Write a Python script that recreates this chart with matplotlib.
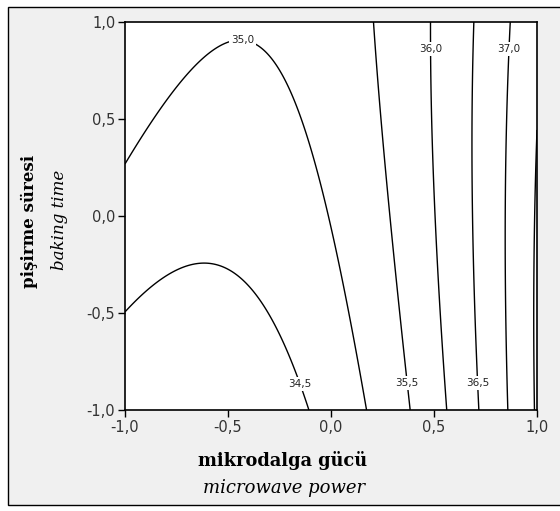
import numpy as np
import matplotlib
matplotlib.use("Agg")
import matplotlib.pyplot as plt
from matplotlib.patches import Rectangle

# quadratic response-surface model:
# z = b0 + b1*x + b2*y + b11*x^2 + b22*y^2 + b12*x*y
coef_names = ["b0", "b1", "b2", "b11", "b22", "b12"]
coef_vals = [35.017, 1.355, 0.287, 1.17, -0.06, -0.355]

levels = [34.5, 35.0, 35.5, 36.0, 36.5, 37.0, 37.5]
label_levels = [34.5, 35.0, 35.5, 36.0, 36.5, 37.0]
# rough label spots (snapped onto the contour below)
label_guess = [(-0.12, -0.86), (-0.43, 0.90), (0.38, -0.86),
               (0.48, 0.86), (0.70, -0.86), (0.84, 0.86)]

ticks = [-1.0, -0.5, 0.0, 0.5, 1.0]
tick_labels = ["-1,0", "-0,5", "0,0", "0,5", "1,0"]

c = dict(zip(coef_names, coef_vals))
gx, gy = np.meshgrid(np.linspace(-1, 1, 301), np.linspace(-1, 1, 301))
Z = (c["b0"] + c["b1"] * gx + c["b2"] * gy + c["b11"] * gx ** 2
     + c["b22"] * gy ** 2 + c["b12"] * gx * gy)

fig = plt.figure(figsize=(5.6, 5.11), dpi=100, facecolor="white")
# grey panel with border (left / top / bottom edges)
fig.patches.append(Rectangle((8 / 560, 1 - 505 / 511), 1.0, (505 - 7) / 511,
                             transform=fig.transFigure, facecolor="#f0f0f0",
                             edgecolor="black", lw=1.0, zorder=-10))

ax = fig.add_axes([125 / 560, 1 - 410 / 511, 412 / 560, 388 / 511])
ax.set_facecolor("white")
cs = ax.contour(gx, gy, Z, levels=levels, colors="black", linewidths=1.0)

# horizontal labels sitting on the lines, white box makes the gap
paths = cs.get_paths()
for lev, (px, py) in zip(label_levels, label_guess):
    v = paths[levels.index(lev)].vertices
    i = np.argmin((v[:, 0] - px) ** 2 + (v[:, 1] - py) ** 2)
    ax.text(v[i, 0], v[i, 1], f"{lev:.1f}".replace(".", ","), fontsize=7.5,
            ha="center", va="center", color="#222222",
            bbox=dict(facecolor="white", edgecolor="none", pad=1.5), zorder=4)

ax.set_xlim(-1, 1)
ax.set_ylim(-1, 1)
ax.set_xticks(ticks)
ax.set_xticklabels(tick_labels)
ax.set_yticks(ticks)
ax.set_yticklabels(tick_labels)
ax.tick_params(direction="out", length=5, width=1.0, labelsize=10.5,
               labelcolor="#333333", pad=2)
for sp in ax.spines.values():
    sp.set_linewidth(1.2)
    sp.set_color("black")

fig.text(0.505, 1 - 460 / 511, "mikrodalga gücü", family="DejaVu Serif",
         weight="bold", fontsize=12.8, ha="center", va="center")
fig.text(0.508, 1 - 488 / 511, "microwave power", family="DejaVu Serif",
         style="italic", fontsize=13, ha="center", va="center")
fig.text(29 / 560, 1 - 221 / 511, "pişirme süresi", family="DejaVu Serif",
         weight="bold", fontsize=12, ha="center", va="center", rotation=90)
fig.text(60 / 560, 1 - 220 / 511, "baking time", family="DejaVu Serif",
         style="italic", fontsize=12, ha="center", va="center", rotation=90)

fig.savefig("out.png", dpi=100, facecolor=fig.get_facecolor())
